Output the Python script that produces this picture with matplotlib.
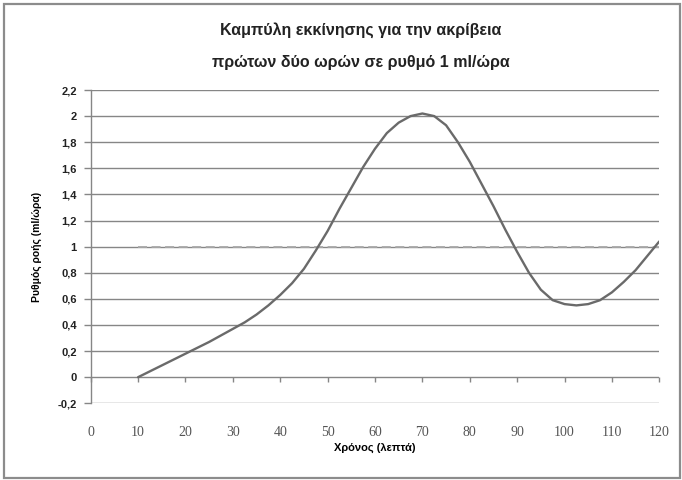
import matplotlib
matplotlib.use("Agg")
import matplotlib.pyplot as plt
from matplotlib.patches import Rectangle

plt.rcParams['font.family'] = ['Liberation Sans', 'DejaVu Sans']

# curve (minutes, ml/h)
minutes = [10, 12.5, 15, 17.5, 20, 22.5, 25, 27.5, 30, 32.5, 35, 37.5, 40, 42.5,
           45, 47.5, 50, 52.5, 55, 57.5, 60, 62.5, 65, 67.5, 70, 72.5, 75, 77.5,
           80, 82.5, 85, 87.5, 90, 92.5, 95, 97.5, 100, 102.5, 105, 107.5, 110,
           112.5, 115, 117.5, 120]
rate = [0.00, 0.045, 0.09, 0.135, 0.18, 0.225, 0.27, 0.32, 0.37, 0.42, 0.48,
        0.55, 0.63, 0.72, 0.83, 0.97, 1.12, 1.29, 1.45, 1.61, 1.75, 1.87, 1.95,
        2.00, 2.02, 2.00, 1.93, 1.80, 1.65, 1.48, 1.31, 1.13, 0.96, 0.80, 0.67,
        0.59, 0.56, 0.55, 0.56, 0.59, 0.65, 0.73, 0.82, 0.93, 1.04]
target_x = [10, 120]
target_y = [1, 1]

yticks = [-0.2, 0, 0.2, 0.4, 0.6, 0.8, 1, 1.2, 1.4, 1.6, 1.8, 2, 2.2]
ytick_labels = ["-0,2", "0", "0,2", "0,4", "0,6", "0,8", "1", "1,2", "1,4",
                "1,6", "1,8", "2", "2,2"]
xticks = list(range(0, 121, 10))

W, H = 682, 480
fig = plt.figure(figsize=(W / 100, H / 100), dpi=100)
fig.patches.append(Rectangle((4 / W, 2 / H), 676 / W, 474 / H, transform=fig.transFigure,
                             fill=False, ec="#8c8c8c", lw=1.6))

ax = fig.add_axes([90.7 / W, 1 - 403.3 / H, 568.6 / W, 313.3 / H])
ax.set_xlim(0, 120)
ax.set_ylim(-0.2, 2.2)

grid_c = "#868686"
for v in yticks:
    ax.axhline(v, color=grid_c, lw=1.0, zorder=1)

# tick marks on the horizontal axis, which crosses at 0
ax.vlines(xticks, -0.035, 0, color=grid_c, lw=1.0, zorder=1, clip_on=False)

ax.plot(target_x, target_y, color="#a8a8a8", lw=1.3, dashes=(5, 2.5), zorder=2)
ax.plot(minutes, rate, color="#6a6a6a", lw=1.7, zorder=3,
        solid_joinstyle="round", solid_capstyle="round")

for s in ["top", "right", "bottom"]:
    ax.spines[s].set_visible(False)
ax.spines["left"].set_color(grid_c)
ax.spines["left"].set_linewidth(1.0)

ax.set_yticks(yticks)
ax.set_yticklabels(ytick_labels, fontsize=8, fontweight="bold", color="#222")
ax.tick_params(axis="y", length=5, width=1.0, color=grid_c, pad=5)

ax.set_xticks(xticks)
ax.set_xticklabels([str(t) for t in xticks], family=["Liberation Serif"], fontsize=10,
                   color="#555")
ax.tick_params(axis="x", length=0, pad=16)

ax.set_xlabel("Χρόνος (λεπτά)", fontsize=8, fontweight="bold", labelpad=3)
ax.set_ylabel("Ρυθμός ροής (ml/ώρα)", fontsize=7.5, fontweight="bold", labelpad=11)

fig.text(361 / W, 1 - 30 / H, "Καμπύλη εκκίνησης για την ακρίβεια", ha="center",
         va="center", fontsize=11.5, fontweight="bold", color="#222")
fig.text(361 / W, 1 - 62 / H, "πρώτων δύο ωρών σε ρυθμό 1 ml/ώρα", ha="center",
         va="center", fontsize=11.5, fontweight="bold", color="#222")

fig.savefig("out.png", dpi=100, facecolor="white")
